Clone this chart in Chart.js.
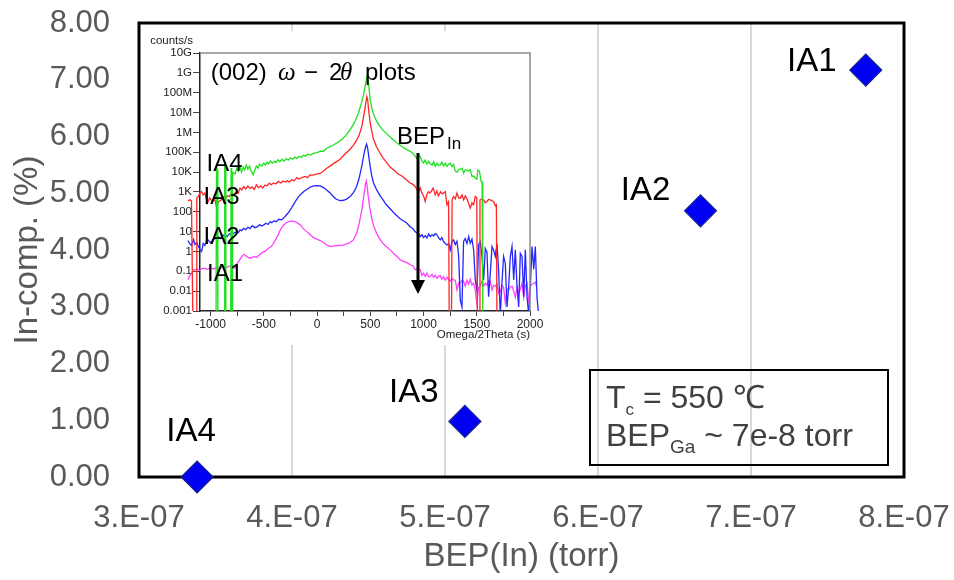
<!DOCTYPE html>
<html><head><meta charset="utf-8">
<script src="https://cdn.jsdelivr.net/npm/chart.js@4.4.1/dist/chart.umd.min.js"></script>
<style>
html,body{margin:0;padding:0;background:#fff;}
#wrap{position:relative;width:954px;height:580px;overflow:hidden;}
#main{position:absolute;left:0;top:0;}
#inset{position:absolute;left:143px;top:31px;background:#fff;}
</style></head><body>
<div id="wrap">
<canvas id="main" width="954" height="580"></canvas>
<canvas id="inset" width="405" height="314"></canvas>
</div>
<script>
// ---------- main chart data ----------
const sampleNames = ['IA1', 'IA2', 'IA3', 'IA4'];
const bepIn = [7.75e-7, 6.67e-7, 5.13e-7, 3.38e-7];      // torr
const inComp = [7.17, 4.69, 0.98, 0.0];                  // %
const xTickValues = [3e-7, 4e-7, 5e-7, 6e-7, 7e-7, 8e-7];
const xTickLabels = ['3.E-07', '4.E-07', '5.E-07', '6.E-07', '7.E-07', '8.E-07'];
const yTickValues = [0, 1, 2, 3, 4, 5, 6, 7, 8];
const yTickLabels = ['0.00', '1.00', '2.00', '3.00', '4.00', '5.00', '6.00', '7.00', '8.00'];

// ---------- inset (XRD omega-2theta) data : x in s, y as log10(counts/s) ----------
const insetXTickValues = [-1000, -750, -500, -250, 0, 250, 500, 750, 1000, 1250, 1500, 1750, 2000];
const insetXTickLabels = ['-1000', '', '-500', '', '0', '', '500', '', '1000', '', '1500', '', '2000'];
const insetYTickValues = [1e-3, 1e-2, 1e-1, 1, 10, 100, 1e3, 1e4, 1e5, 1e6, 1e7, 1e8, 1e9, 1e10];
const insetYTickLabels = ['0.001', '0.01', '0.1', '1', '10', '100', '1K', '10K', '100K', '1M', '10M', '100M', '1G', '10G'];

const ia4X = [-950,-945,-938,-932,-872,-868,-862,-857,-812,-808,-803,-798,-794,-771,-755,-740,-725,-710,-695,-680,-665,-650,-635,-620,-600,-585,-570,-555,-540,-520,-500,-485,-470,-455,-440,-420,-400,-385,-370,-350,-330,-310,-290,-270,-250,-230,-210,-190,-170,-150,-130,-110,-90,-60,-30,0,30,60,90,120,150,180,210,240,270,300,330,360,390,415,435,450,462,470,478,488,500,515,535,560,590,620,660,700,740,780,820,850,875,900,920,935,950,969,985,1000,1015,1032,1048,1063,1080,1095,1110,1126,1140,1157,1172,1188,1204,1220,1236,1251,1266,1282,1298,1314,1330,1345,1361,1376,1392,1408,1424,1439,1455,1470,1486,1500,1510,1525,1540,1550,1556];
const ia4Log = [-4,4.3,4.1,-4,-4,4.4,4.2,-4,-4,4.2,-4,-4,4.0,3.9,4.2,4.05,4.3,4.0,4.25,4.1,4.35,4.15,4.3,4.05,3.86,4.1,4.3,4.2,4.4,4.3,4.45,4.35,4.5,4.4,4.55,4.45,4.55,4.48,4.62,4.52,4.65,4.55,4.68,4.6,4.72,4.65,4.75,4.68,4.8,4.74,4.85,4.8,4.9,4.86,4.95,4.98,5.05,5.05,5.2,5.28,5.35,5.45,5.55,5.68,5.85,6.05,6.3,6.6,7.0,7.45,7.85,8.3,8.65,8.85,8.7,8.2,7.6,7.2,6.85,6.55,6.3,6.1,5.9,5.7,5.5,5.35,5.2,5.12,5.04,4.95,4.82,4.7,4.85,4.79,4.55,4.45,4.6,4.4,4.55,4.42,4.35,4.52,4.3,4.45,4.33,4.36,4.5,4.3,4.45,4.28,4.4,4.45,4.28,4.38,4.05,4.0,4.12,4.15,4.2,3.95,4.12,4.1,4.05,4.11,3.78,3.8,3.7,3.65,4.11,4.05,3.53,3.5,-4];

const ia3X = [-1213,-1195,-1180,-1166,-1136,-1130,-1116,-1100,-1085,-1070,-1054,-1030,-1010,-990,-960,-945,-925,-900,-880,-866,-845,-825,-805,-790,-770,-755,-740,-724,-708,-690,-670,-650,-630,-610,-590,-570,-550,-530,-510,-489,-470,-450,-430,-410,-390,-364,-340,-320,-300,-280,-260,-238,-215,-190,-170,-150,-130,-113,-90,-66,-40,-10,28,60,90,122,160,190,216,250,280,310,340,370,395,420,440,455,467,475,485,498,512,530,560,592,620,650,686,720,750,780,810,840,875,900,922,940,953,969,985,1000,1016,1030,1045,1060,1075,1090,1110,1125,1140,1160,1180,1204,1220,1235,1242,1262,1268,1282,1298,1314,1330,1345,1361,1376,1392,1408,1424,1439,1455,1470,1486,1500,1506,1524,1530,1548,1565,1580,1596,1611,1627,1643,1658,1674,1684,1690];
const ia3Log = [2.55,2.6,2.55,-4,-4,2.7,2.77,2.95,3.02,2.85,2.94,2.43,2.7,2.55,2.6,2.26,2.5,2.6,2.75,2.6,2.8,2.77,2.95,2.85,2.95,3.05,2.94,3.19,3.1,3.27,3.15,3.3,3.18,3.25,3.12,3.36,3.22,3.3,3.2,3.35,3.3,3.44,3.36,3.45,3.4,3.53,3.45,3.55,3.5,3.56,3.5,3.61,3.56,3.72,3.65,3.7,3.75,3.78,3.72,3.86,3.85,3.9,3.93,4.05,4.19,4.3,4.45,4.55,4.65,4.85,5.0,5.15,5.35,5.6,5.85,6.3,6.9,7.4,7.8,7.65,7.1,6.5,6.1,5.65,5.25,4.95,4.7,4.5,4.25,4.1,3.95,3.85,3.75,3.6,3.45,3.38,3.26,3.1,3.0,3.2,2.94,2.8,2.52,2.85,3.02,2.94,3.05,3.19,2.85,3.05,2.8,3.0,2.9,3.02,2.35,2.5,-4,-4,2.6,2.77,2.65,2.94,2.7,2.68,2.85,2.6,2.8,2.65,2.4,2.19,2.45,2.35,2.77,2.7,-4,-4,2.6,2.65,2.6,2.45,2.52,2.62,2.6,2.55,2.52,2.3,2.35,-4];

const ia2X = [-1213,-1200,-1180,-1160,-1148,-1130,-1116,-1100,-1085,-1070,-1054,-1038,-1023,-1005,-990,-970,-950,-929,-910,-890,-866,-845,-820,-800,-785,-760,-740,-724,-708,-690,-670,-650,-630,-610,-583,-560,-540,-520,-500,-480,-460,-440,-426,-405,-385,-360,-332,-301,-270,-240,-207,-176,-150,-120,-90,-60,-30,0,30,60,90,122,150,180,216,250,280,310,340,370,395,420,440,455,465,475,485,498,512,530,560,592,620,650,686,720,750,780,810,840,875,900,920,940,955,969,985,1000,1016,1032,1048,1063,1080,1095,1110,1126,1142,1157,1172,1188,1204,1220,1236,1251,1266,1282,1298,1314,1330,1345,1361,1376,1392,1408,1424,1439,1455,1470,1486,1502,1518,1533,1549,1565,1580,1596,1611,1627,1643,1658,1674,1690,1705,1721,1736,1752,1768,1784,1800,1815,1831,1847,1862,1878,1894,1909,1925,1941,1956,1972,1988,2003,2019,2035,2050,2066,2081];
const ia2Log = [0.55,0.42,0.3,0.6,0.35,0.45,0.25,0.1,0.0,0.4,0.3,0.55,0.58,0.45,0.5,0.6,0.7,0.75,0.65,0.8,0.83,0.75,0.9,0.85,0.92,1.0,0.95,1.09,1.05,1.17,1.1,1.22,1.15,1.3,1.2,1.25,1.35,1.28,1.34,1.42,1.36,1.5,1.45,1.55,1.5,1.62,1.59,1.76,1.95,2.2,2.5,2.75,2.9,3.05,3.15,3.25,3.3,3.32,3.3,3.22,3.1,2.95,2.78,2.63,2.56,2.58,2.65,2.77,2.95,3.25,3.7,4.3,4.9,5.25,5.4,5.2,4.8,4.3,3.85,3.45,3.1,2.8,2.6,2.35,2.15,1.95,1.8,1.65,1.55,1.45,1.25,1.15,1.0,0.92,0.88,0.75,0.85,0.7,0.8,0.68,0.88,0.75,0.85,0.78,0.9,0.84,0.68,0.58,0.7,0.5,0.4,0.33,0.4,0.08,0.5,0.58,0.35,0.52,-0.25,-2.45,-2.8,0.5,0.65,0.4,0.75,0.42,0.62,0.1,-1.43,-1.95,0.35,0.5,-0.25,-1.43,0.15,-0.05,-2.28,-1.1,0.25,0.08,-0.25,0.4,-0.93,-3.2,-1.6,-0.25,-0.6,-2.8,-1.75,-0.25,0.25,-1.43,0.08,-1.75,-2.8,-0.1,-0.25,-2.28,0.08,-2.28,-3.2,-1.8,0.25,-0.9,0.25,-2.3,-3.2];

const ia1X = [-1213,-1200,-1180,-1160,-1130,-1100,-1080,-1054,-1030,-1000,-970,-940,-910,-880,-850,-834,-815,-790,-771,-750,-730,-708,-690,-670,-650,-630,-610,-590,-567,-540,-515,-489,-460,-430,-400,-380,-364,-345,-320,-290,-260,-238,-215,-190,-160,-130,-97,-66,-40,-10,28,60,90,122,160,200,240,280,310,340,370,395,420,440,455,462,470,480,495,512,530,560,592,620,650,686,720,750,780,810,840,875,900,922,945,969,985,1000,1016,1032,1048,1063,1080,1095,1110,1126,1142,1157,1172,1188,1204,1220,1236,1251,1266,1282,1298,1314,1330,1345,1361,1376,1392,1408,1424,1439,1455,1470,1486,1500,1518,1533,1549,1565,1580,1596,1611,1627,1643,1658,1674,1690,1705,1721,1736,1752,1768,1784,1800,1815,1831,1847,1862,1878,1894,1909,1925,1941,1956,1972,1988,2003,2019,2035,2050,2060];
const ia1Log = [-1.43,-1.25,-1.1,-0.93,-0.9,-0.95,-0.85,-0.85,-0.9,-0.82,-0.88,-0.8,-0.85,-0.78,-0.8,-0.76,-0.72,-0.8,-0.85,-0.6,-0.45,-0.26,-0.15,-0.2,-0.3,-0.34,-0.3,-0.25,-0.3,-0.15,-0.05,0.0,0.15,0.25,0.5,0.7,0.85,1.1,1.3,1.45,1.52,1.54,1.52,1.45,1.35,1.15,1.0,0.85,0.72,0.65,0.55,0.45,0.33,0.25,0.28,0.3,0.32,0.38,0.45,0.58,0.9,1.4,2.1,2.85,3.4,3.55,3.3,2.8,2.2,1.7,1.3,0.9,0.6,0.4,0.25,0.08,-0.1,-0.25,-0.42,-0.5,-0.55,-0.67,-0.72,-0.93,-0.85,-0.93,-1.2,-1.1,-1.26,-1.1,-1.28,-1.26,-1.15,-1.3,-1.2,-1.35,-1.25,-1.22,-1.4,-1.28,-1.45,-1.3,-1.42,-1.5,-1.35,-1.43,-1.45,-1.94,-1.6,-1.6,-1.45,-1.5,-1.75,-1.45,-1.65,-1.4,-1.7,-1.6,-1.94,-2.6,-1.8,-1.75,-1.5,-1.75,-1.6,-1.7,-1.45,-1.5,-1.94,-1.7,-1.75,-1.65,-2.1,-2.02,-1.7,-1.8,-2.6,-1.9,-1.94,-1.8,-1.75,-2.0,-2.3,-1.8,-2.1,-1.9,-1.6,-2.3,-1.75,-1.6,-2.6,-1.75,-1.65,-1.6,-1.55,-1.75];

// ---------- styles ----------
const FONT = '"Liberation Sans", Arial, Helvetica, sans-serif';
Chart.defaults.font.family = FONT;
const labelOffsets = [[-54, -8], [-55, -20], [-51, -28], [-6, -45]];

const mainDecor = {
  id: 'mainDecor',
  beforeDatasetsDraw(chart) {
    const {ctx, chartArea: a} = chart;
    ctx.save();
    ctx.strokeStyle = '#000';
    ctx.lineWidth = 3;
    ctx.strokeRect(a.left, a.top, a.right - a.left, a.bottom - a.top);
    ctx.restore();
  },
  afterDatasetsDraw(chart) {
    const {ctx} = chart;
    const pts = chart.getDatasetMeta(0).data;
    ctx.save();
    ctx.fillStyle = '#000';
    ctx.font = '33px ' + FONT;
    ctx.textAlign = 'center';
    ctx.textBaseline = 'middle';
    pts.forEach((p, i) => {
      ctx.fillText(sampleNames[i], p.x + labelOffsets[i][0], p.y + labelOffsets[i][1]);
    });
    // condition box
    ctx.lineWidth = 2;
    ctx.strokeStyle = '#000';
    ctx.strokeRect(590, 370, 298, 95);
    ctx.fillStyle = '#404040';
    ctx.textAlign = 'left';
    ctx.textBaseline = 'alphabetic';
    let x = 606, y = 408;
    ctx.font = '32px ' + FONT; ctx.fillText('T', x, y); x += ctx.measureText('T').width;
    ctx.font = '17px ' + FONT; ctx.fillText('c', x, y + 7); x += ctx.measureText('c').width;
    ctx.font = '32px ' + FONT; ctx.fillText(' = 550 \u2103', x, y);
    x = 606; y = 446;
    ctx.font = '32px ' + FONT; ctx.fillText('BEP', x, y); x += ctx.measureText('BEP').width;
    ctx.font = '19px ' + FONT; ctx.fillText('Ga', x, y + 7); x += ctx.measureText('Ga').width;
    ctx.font = '32px ' + FONT; ctx.fillText(' ~ 7e-8 torr', x, y);
    ctx.restore();
  }
};

new Chart(document.getElementById('main'), {
  type: 'scatter',
  data: {
    datasets: [{
      data: bepIn.map((v, i) => ({x: v, y: inComp[i]})),
      pointStyle: 'rectRot',
      pointRadius: 16,
      pointHoverRadius: 16,
      backgroundColor: '#0000f2',
      borderColor: '#14238a',
      borderWidth: 1.2,
      clip: false
    }]
  },
  options: {
    responsive: false,
    animation: false,
    events: [],
    layout: {padding: {top: 23, right: 50, left: 0, bottom: 0}},
    plugins: {legend: {display: false}, tooltip: {enabled: false}},
    scales: {
      x: {
        type: 'linear', min: 3e-7, max: 8e-7,
        afterBuildTicks: s => { s.ticks = xTickValues.map(v => ({value: v})); },
        afterFit: s => { s.height = 103; s.paddingLeft = 0; s.paddingRight = 0; },
        ticks: {callback: (v, i) => xTickLabels[i], autoSkip: false, maxRotation: 0,
                font: {size: 31}, color: '#595959', padding: 23},
        grid: {color: '#d9d9d9', lineWidth: 2, drawTicks: false},
        border: {display: false},
        title: {display: true, text: 'BEP(In) (torr)', font: {size: 33}, color: '#595959', padding: 3}
      },
      y: {
        min: 0, max: 8,
        afterBuildTicks: s => { s.ticks = yTickValues.map(v => ({value: v})); },
        afterFit: s => { s.width = 139; s.paddingTop = 0; s.paddingBottom = 0; },
        ticks: {callback: (v, i) => yTickLabels[i], autoSkip: false,
                font: {size: 31}, color: '#595959', padding: 29},
        grid: {display: false, drawTicks: false},
        border: {display: false},
        title: {display: true, text: 'In-comp. (%)', font: {size: 33}, color: '#595959', padding: 8}
      }
    }
  },
  plugins: [mainDecor]
});

// ---------- inset ----------
const insetDecor = {
  id: 'insetDecor',
  afterDraw(chart) {
    const {ctx, chartArea: a} = chart;
    ctx.save();
    // top & right frame
    ctx.strokeStyle = '#8c8c8c';
    ctx.lineWidth = 1.5;
    ctx.beginPath();
    ctx.moveTo(a.left, a.top); ctx.lineTo(a.right, a.top); ctx.lineTo(a.right, a.bottom);
    ctx.stroke();
    ctx.fillStyle = '#222';
    ctx.textBaseline = 'middle';
    ctx.textAlign = 'right';
    ctx.font = '11.5px ' + FONT;
    ctx.fillText('counts/s', 50, 10);
    // title
    ctx.fillStyle = '#000';
    ctx.textAlign = 'left';
    const ty = 42;
    ctx.font = '24px ' + FONT; ctx.fillText('(002)', 67.7, ty);
    ctx.font = 'italic 25px "Liberation Serif", "DejaVu Serif", serif'; ctx.fillText('\u03c9', 135, ty);
    ctx.font = '24px ' + FONT; ctx.fillText('\u2212', 161, ty);
    ctx.font = '24px ' + FONT; ctx.fillText('2', 186, ty);
    ctx.font = 'italic 25px "Liberation Serif", "DejaVu Serif", serif'; ctx.fillText('\u03b8', 197, ty);
    ctx.font = '24px ' + FONT; ctx.fillText('plots', 222, ty);
    // sample labels
    ctx.font = '24px ' + FONT;
    ctx.fillText('IA4', 63.5, 133);
    ctx.fillText('IA3', 60.5, 166);
    ctx.fillText('IA2', 60.5, 206);
    ctx.fillText('IA1', 64, 243);
    // BEP_In
    ctx.fillText('BEP', 254, 106);
    ctx.font = '17px ' + FONT; ctx.fillText('In', 304, 113);
    // arrow
    ctx.strokeStyle = '#000';
    ctx.lineWidth = 3;
    ctx.beginPath(); ctx.moveTo(275, 122); ctx.lineTo(275, 252); ctx.stroke();
    ctx.beginPath(); ctx.moveTo(268, 249); ctx.lineTo(282, 249); ctx.lineTo(275, 263); ctx.closePath(); ctx.fill();
    ctx.restore();
  }
};

function series(xs, ls, color) {
  return {
    data: xs.map((x, i) => ({x: x, y: Math.pow(10, ls[i])})),
    borderColor: color, borderWidth: 1.3, pointRadius: 0, fill: false, tension: 0,
    clip: {left: 14, right: 12, top: 0, bottom: 0}
  };
}

new Chart(document.getElementById('inset'), {
  type: 'line',
  data: {
    datasets: [
      series(ia4X, ia4Log, '#20e020'),
      series(ia3X, ia3Log, '#ff2626'),
      series(ia2X, ia2Log, '#2626ff'),
      series(ia1X, ia1Log, '#ff40ff')
    ]
  },
  options: {
    responsive: false,
    animation: false,
    events: [],
    layout: {padding: {top: 22, right: 18, left: 0, bottom: 0}},
    plugins: {legend: {display: false}, tooltip: {enabled: false}},
    scales: {
      x: {
        type: 'linear', bounds: 'data',
        afterDataLimits: s => { s.min = -1100; s.max = 2000; },
        afterBuildTicks: s => { s.ticks = insetXTickValues.map(v => ({value: v})); },
        afterFit: s => { s.height = 34; s.paddingLeft = 0; s.paddingRight = 0; },
        ticks: {callback: (v, i) => insetXTickLabels[i], autoSkip: false, maxRotation: 0,
                font: {size: 12}, color: '#222', padding: 1},
        grid: {drawOnChartArea: false, tickLength: 5, color: '#444', lineWidth: 1},
        border: {display: true, color: '#222', width: 1.5},
        title: {display: true, text: 'Omega/2Theta (s)', align: 'end', font: {size: 11.5}, color: '#222', padding: {top: 0, bottom: 3}}
      },
      y: {
        type: 'logarithmic', min: 1e-3, max: 1e10,
        afterBuildTicks: s => { s.ticks = insetYTickValues.map(v => ({value: v})); },
        afterFit: s => { s.width = 57; s.paddingTop = 0; s.paddingBottom = 0; },
        ticks: {callback: (v, i) => insetYTickLabels[i], autoSkip: false,
                font: {size: 11.5}, color: '#222', padding: 1},
        grid: {drawOnChartArea: false, tickLength: 7, color: '#444', lineWidth: 1},
        border: {display: true, color: '#222', width: 1.5}
      }
    }
  },
  plugins: [insetDecor]
});
</script>
</body></html>
